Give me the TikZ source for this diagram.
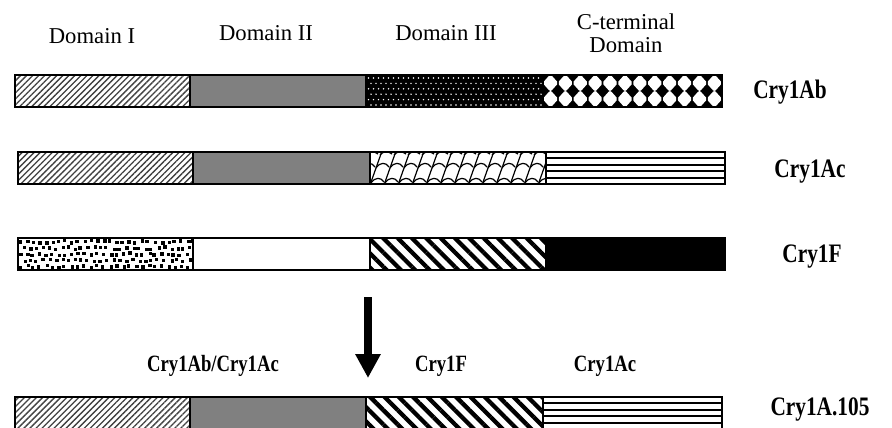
\documentclass[tikz,border=0pt]{standalone}
\usepackage{fontspec}
\setmainfont{Liberation Serif}
\usetikzlibrary{patterns,patterns.meta,arrows.meta}
\newcommand{\patin}[2]{%
  \begin{scope}
    \clip (#1.north west) rectangle (#1.south east);
    \begin{scope}[shift={(#1.north west)}]#2\end{scope}
  \end{scope}
  \draw[line width=1.6pt] (#1.north west) rectangle (#1.south east);}
\newcommand{\dotsab}{%
  \foreach \i in {0,...,36}{\foreach \j in {0,...,5}{
    \fill[white] ({2.5+\i*5+mod(\j,2)*2.5},{3+\j*5.4}) circle (0.6pt);}}}
\newcommand{\diamab}{%
  \foreach \i in {0,...,11}{\foreach \r in {8,24}{
    \fill[white,rounded corners=1.5pt] ({7.45+\i*14.9},{\r-8.8}) -- ({7.45+\i*14.9+7.9},\r) -- ({7.45+\i*14.9},{\r+8.8}) -- ({7.45+\i*14.9-7.9},\r) -- cycle;}}}
\newcommand{\trellis}{%
  \begin{scope}[line width=0.9pt]
  \foreach \i in {-1,...,13}{
    \draw ({\i*14},33) -- ({\i*14+12},-1);
    \draw ({\i*14+6},16) .. controls ({\i*14+10},10) and ({\i*14+16},10) .. ({\i*14+19},15);
    \draw ({\i*14+1},31) .. controls ({\i*14+5},25) and ({\i*14+11},25) .. ({\i*14+14},30);
    \draw ({\i*14+10},3) .. controls ({\i*14+13},-1) and ({\i*14+18},-1) .. ({\i*14+22},2);}
  \end{scope}}
\newcommand{\hlines}{%
  \foreach \k in {1,...,4}{\draw[line width=1.5pt] (-2,{\k*32/5}) -- (200,{\k*32/5});}}
\newcommand{\rsquares}{%
  \pgfmathsetseed{7}
  \foreach \i in {0,...,27}{\foreach \j in {0,...,4}{
    \pgfmathsetmacro{\dx}{rand*1.8}\pgfmathsetmacro{\dy}{rand*1.3}
    \fill[black] ({1+\i*6.4+mod(\j,2)*3.2+\dx},{2.2+\j*6.2+\dy}) rectangle ++(3.4,3.4);}}}
\newcommand{\tall}[1]{\scalebox{1}[1.25]{#1}}
\begin{document}
\begin{tikzpicture}[x=0.75pt,y=-0.75pt,
  seg/.style={draw=black,line width=1.6pt,minimum height=24pt,inner sep=0pt,outer sep=0pt,anchor=north west},
  dI/.style={seg,pattern={Lines[angle=45,distance=3.2pt,line width=1pt]},pattern color=black!75},
  dII/.style={seg,fill=black!50},
  dIIIab/.style={seg,fill=black},
  ctab/.style={seg,fill=black},
  dIIIac/.style={seg,fill=white},
  ctac/.style={seg,fill=white},
  dIf/.style={seg,fill=white},
  dIIf/.style={seg,fill=white},
  dIIIf/.style={seg,fill=white,pattern={Lines[angle=-45,distance=7.6pt,line width=3.2pt]},pattern color=black},
  ctf/.style={seg,fill=black},
  dlab/.style={font=\fontsize{17}{17.5}\selectfont,align=center,inner sep=0pt},
  blab/.style={font=\bfseries\fontsize{14}{16}\selectfont,inner sep=0pt},
  rlab/.style={font=\bfseries\fontsize{16}{18}\selectfont,inner sep=0pt}
]
\useasboundingbox (0,0) rectangle (892,428);
% row 1 Cry1Ab
\node[dI,minimum width=131.25pt] (a1) at (15,75) {};
\node[dII,minimum width=132pt] (a2) at (190,75) {};
\node[dIIIab,minimum width=132.75pt] (a3) at (366,75) {};
\node[ctab,minimum width=134.25pt] (a4) at (543,75) {};
\patin{a3}{\dotsab}
\patin{a4}{\diamab}
\node[rlab] (la) at (790,92) {\tall{Cry1Ab}};
% domain labels
\node[dlab] (t1) at (92,36) {Domain I};
\node[dlab] (t2) at (266,33) {Domain II};
\node[dlab] (t3) at (446,33) {Domain III};
\node[dlab] (t4) at (626,33) {C-terminal\\Domain};
% row 2 Cry1Ac
\node[dI,minimum width=131.25pt] (b1) at (18,152) {};
\node[dII,minimum width=132.75pt] (b2) at (193,152) {};
\node[dIIIac,minimum width=132pt] (b3) at (370,152) {};
\node[ctac,minimum width=134.25pt] (b4) at (546,152) {};
\patin{b3}{\trellis}
\patin{b4}{\hlines}
\node[rlab] (lb) at (810,172) {\tall{Cry1Ac}};
% row 3 Cry1F
\node[dIf,minimum width=131.25pt] (c1) at (18,238) {};
\node[dIIf,minimum width=132.75pt] (c2) at (193,238) {};
\node[dIIIf,minimum width=132pt] (c3) at (370,238) {};
\node[ctf,minimum width=134.25pt] (c4) at (546,238) {};
\patin{c1}{\rsquares}
\node[rlab] (lc) at (812,257) {\tall{Cry1F}};
% arrow
\coordinate (arS) at (368,297);
\coordinate (arE) at (368,378);
\draw[line width=5.4pt,-{Triangle[length=18pt,width=18pt]}] (arS) -- (arE);
% bottom labels
\node[blab] (m1) at (213,366) {\tall{Cry1Ab/Cry1Ac}};
\node[blab] (m2) at (441,366) {\tall{Cry1F}};
\node[blab] (m3) at (605,366) {\tall{Cry1Ac}};
% row 4 Cry1A.105
\node[dI,minimum width=131.25pt] (d1) at (15,397) {};
\node[dII,minimum width=132pt] (d2) at (190,397) {};
\node[dIIIf,minimum width=132.75pt] (d3) at (366,397) {};
\node[ctac,minimum width=134.25pt] (d4) at (543,397) {};
\patin{d4}{\hlines}
\node[rlab] (ld) at (820,410) {\tall{Cry1A.105}};
\end{tikzpicture}
\end{document}
